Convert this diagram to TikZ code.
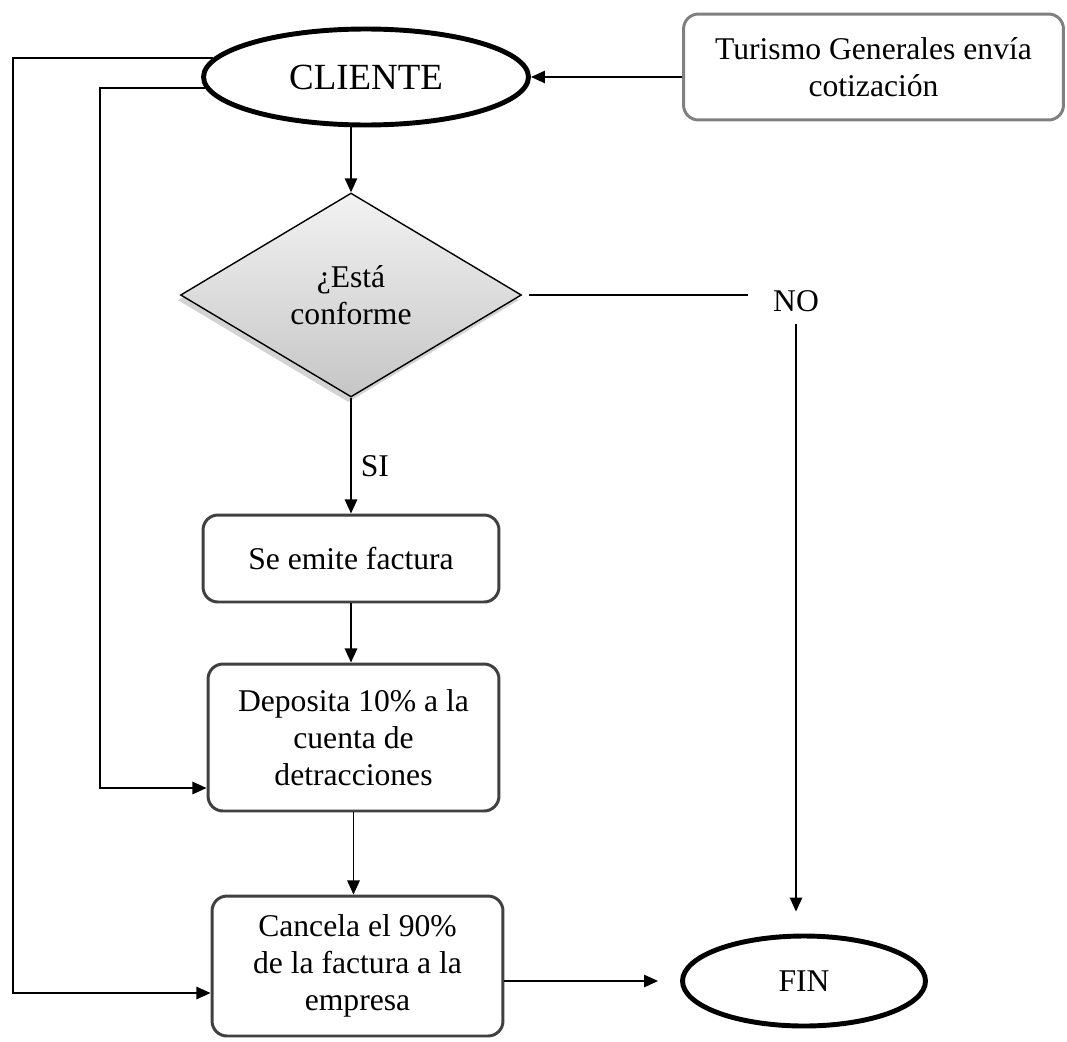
\documentclass[tikz,border=0pt]{standalone}
\usepackage{fontspec}
\setmainfont{Liberation Serif}
\usepackage{tikz}
\usetikzlibrary{shapes.geometric,arrows.meta,shadows}
\tikzset{
Proceso/.style={
 draw=black!75,
 line width=1.7pt,
 rounded corners=8.5pt,
 fill=white,
 align=center,
 inner sep=2pt,
 font=\fontsize{18}{21}\selectfont
 },
Terminal/.style={
 ellipse,
 draw=black,
 line width=2.8pt,
 fill=white,
 inner sep=0pt,
 font=\fontsize{18}{21}\selectfont
 },
Decision/.style={
 diamond,
 draw=black,
 line width=0.8pt,
 top color=gray!10,
 bottom color=gray!45,
 drop shadow={shadow xshift=-1.5pt, shadow yshift=-3pt, opacity=0.35, fill=gray},
 align=center,
 inner sep=0pt,
 font=\fontsize{18}{21}\selectfont
 },
Etiqueta/.style={
 inner sep=2pt,
 font=\fontsize{18}{21}\selectfont
 },
Linea/.style={
 draw=black,
 line width=1.1pt
 },
Flecha/.style={
 Linea,
 -{Triangle[width=7pt,length=8pt]}
 }
}
\begin{document}
\begin{tikzpicture}[x=0.02cm,y=-0.02cm]
\useasboundingbox (0,0) rectangle (1067,1041);
\node[Terminal, minimum width=6.5cm, minimum height=1.92cm, font=\fontsize{21}{25}\selectfont] (cliente) at (366,77) {CLIENTE};
\node[Proceso, draw=gray, minimum width=7.6cm, minimum height=2.12cm] (turismo) at (873.5,67) {Turismo Generales envía\\cotización};
\node[Decision, minimum width=6.82cm, minimum height=4.08cm] (conforme) at (351,295) {¿Está\\conforme};
\node[Etiqueta] (no) at (796,301) {NO};
\node[Proceso, minimum width=5.92cm, minimum height=1.74cm] (factura) at (351,558.5) {Se emite factura};
\node[Proceso, minimum width=5.82cm, minimum height=2.94cm] (deposita) at (353.5,737.5) {Deposita 10\% a la\\cuenta de\\detracciones};
\node[Proceso, minimum width=5.82cm, minimum height=2.8cm] (cancela) at (357.5,966) {Cancela el 90\%\\de la factura a la\\empresa};
\node[Terminal, minimum width=4.86cm, minimum height=1.8cm] (fin) at (804,981) {FIN};
\coordinate (retornoA) at (13,993);
\coordinate (retornoB) at (100,788);
\draw[Flecha] (turismo.west |- cliente.east) -- (cliente.east);
\draw[Flecha] (conforme.north |- cliente.south) -- (conforme.north);
\draw[Linea, shorten <=4pt, shorten >=12pt] (conforme.east) -- (conforme.east -| no.west);
\draw[Flecha, shorten <=5pt, shorten >=12.5pt] (no.south) -- (no.south |- fin.north);
\draw[Flecha] (conforme.south) -- (conforme.south |- factura.north) node[Etiqueta, right, pos=0.59, xshift=3pt] {SI};
\draw[Flecha] (factura.south) -- (factura.south |- deposita.north);
\draw[Flecha] (deposita.south) -- (deposita.south |- cancela.north);
\draw[Flecha, shorten >=12.5pt] (cancela.east |- fin.west) -- (fin.west);
\draw[Flecha] (cliente.173) -| (retornoA) -- (retornoA -| cancela.west);
\draw[Flecha] (cliente.184) -| (retornoB) -- (retornoB -| deposita.west);
\end{tikzpicture}
\end{document}
